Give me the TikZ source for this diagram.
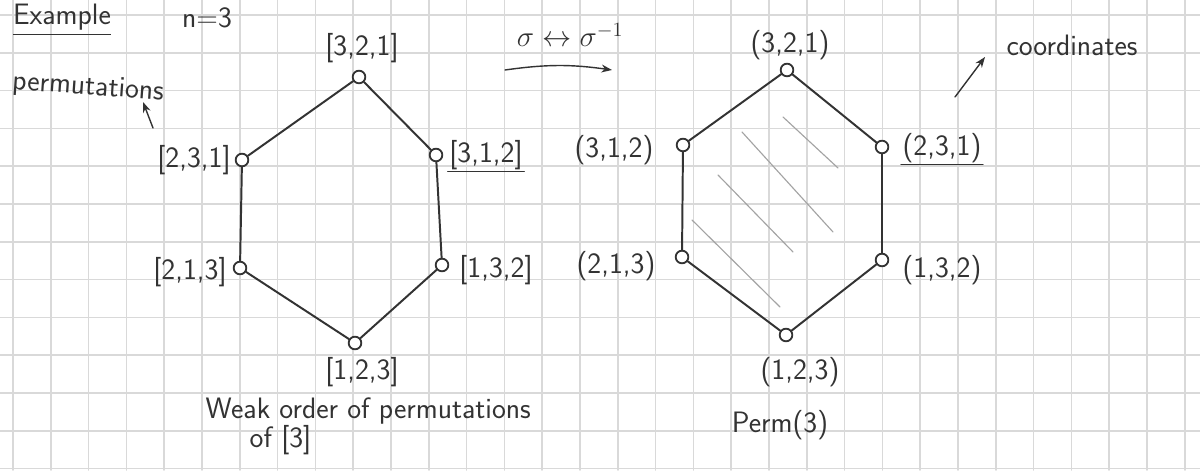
\documentclass[tikz,border=0pt]{standalone}
\usepackage{amsmath,amssymb}
\usepackage{tikz}
\usetikzlibrary{arrows.meta,positioning}
\definecolor{ink}{HTML}{333333}
\definecolor{paper}{HTML}{D9D9D9}
\tikzset{
  every picture/.style={font=\sffamily\fontsize{21}{25}\selectfont, line join=round, line cap=round, >=Stealth},
  edge/.style={draw=ink, line width=1.4pt},
  vtx/.style={circle, draw=ink, fill=white, line width=1.3pt, inner sep=0pt, minimum size=9pt},
  lbl/.style={text=ink, inner sep=1pt},
  hatch/.style={draw=ink!45, line width=0.8pt},
  gridline/.style={draw=paper, line width=1.2pt},
}

\begin{document}
\begin{tikzpicture}
\useasboundingbox (0,0) rectangle (30,11.75);
\fill[white] (0,0) rectangle (30,11.75);
% paper grid
\foreach \i in {0,...,31} \draw[gridline] ({0.325+0.945*\i},0)--({0.325+0.945*\i},11.75);
\foreach \j in {0,...,12} \draw[gridline] (0,{11.375-0.945*\j})--(30,{11.375-0.945*\j});

% weak order
\node[vtx] (w321) at (8.975,9.825) {};
\node[vtx] (w231) at (6.05,7.75) {};
\node[vtx] (w312) at (10.9,7.875) {};
\node[vtx] (w213) at (6.0,5.05) {};
\node[vtx] (w132) at (11.05,5.125) {};
\node[vtx] (w123) at (8.875,3.175) {};
\draw[edge] (w321)--(w231) (w231)--(w213) (w213)--(w123)
            (w123)--(w132) (w132)--(w312) (w312)--(w321);
\node[lbl] (l321) at (9.05,10.55) {[3,2,1]};
\node[lbl] (l231) at (4.85,7.75) {[2,3,1]};
\node[lbl] (l312) at (12.15,7.875) {[3,1,2]};
\node[lbl] (l213) at (4.75,4.95) {[2,1,3]};
\node[lbl] (l132) at (12.4,5.0) {[1,3,2]};
\node[lbl] (l123) at (9.05,2.45) {[1,2,3]};
\draw[edge, line width=1pt] (l312.south west)--(l312.south east);

% permutohedron
\draw[hatch] (19.575,8.825)--(20.95,7.55);
\draw[hatch] (18.55,8.45)--(20.825,5.95);
\draw[hatch] (17.95,7.375)--(19.825,5.45);
\draw[hatch] (17.3,6.25)--(19.5,4.075);
\node[vtx] (p321) at (19.675,10.0) {};
\node[vtx] (p312) at (17.075,8.125) {};
\node[vtx] (p231) at (22.05,8.075) {};
\node[vtx] (p213) at (17.05,5.325) {};
\node[vtx] (p132) at (22.05,5.25) {};
\node[vtx] (p123) at (19.65,3.375) {};
\draw[edge] (p321)--(p312) (p312)--(p213) (p213)--(p123)
            (p123)--(p132) (p132)--(p231) (p231)--(p321);
\node[lbl] (q321) at (19.75,10.625) {(3,2,1)};
\node[lbl] (q312) at (15.35,8.0) {(3,1,2)};
\node[lbl] (q231) at (23.55,8.05) {(2,3,1)};
\node[lbl] (q213) at (15.4,5.1) {(2,1,3)};
\node[lbl] (q132) at (23.55,5.0) {(1,3,2)};
\node[lbl] (q123) at (20.0,2.45) {(1,2,3)};
\draw[edge, line width=1pt] (q231.south west)--(q231.south east);

% notes
\node[lbl] (ex) at (1.55,11.25) {\underline{Example}};
\node[lbl] (n3) at (5.175,11.3) {n=3};
\node[lbl, rotate=-4] (perms) at (2.2,9.55) {permutations};
\coordinate (pf) at (3.825,8.55);
\coordinate (pt) at (3.575,9.2);
\draw[edge, ->, line width=1pt] (pf)--(pt);
\node[lbl] (inv) at (14.25,10.875) {$\sigma\leftrightarrow\sigma^{-1}$};
\coordinate (ia) at (12.625,10.0);
\coordinate (ib) at (15.3,10.0);
\draw[edge, ->, line width=1pt] (ia) to[bend left=8] (ib);
\node[lbl] (coord) at (26.8,10.625) {coordinates};
\coordinate (cf) at (23.875,9.325);
\coordinate (ct) at (24.625,10.325);
\draw[edge, ->, line width=1pt] (cf)--(ct);
\node[lbl, align=left, anchor=north west] (weak) at (5.1,1.85) {Weak order of permutations\\[-4pt]\hspace*{1.1cm}of [3]};
\node[lbl] (perm) at (19.5,1.125) {Perm(3)};
\end{tikzpicture}
\end{document}
